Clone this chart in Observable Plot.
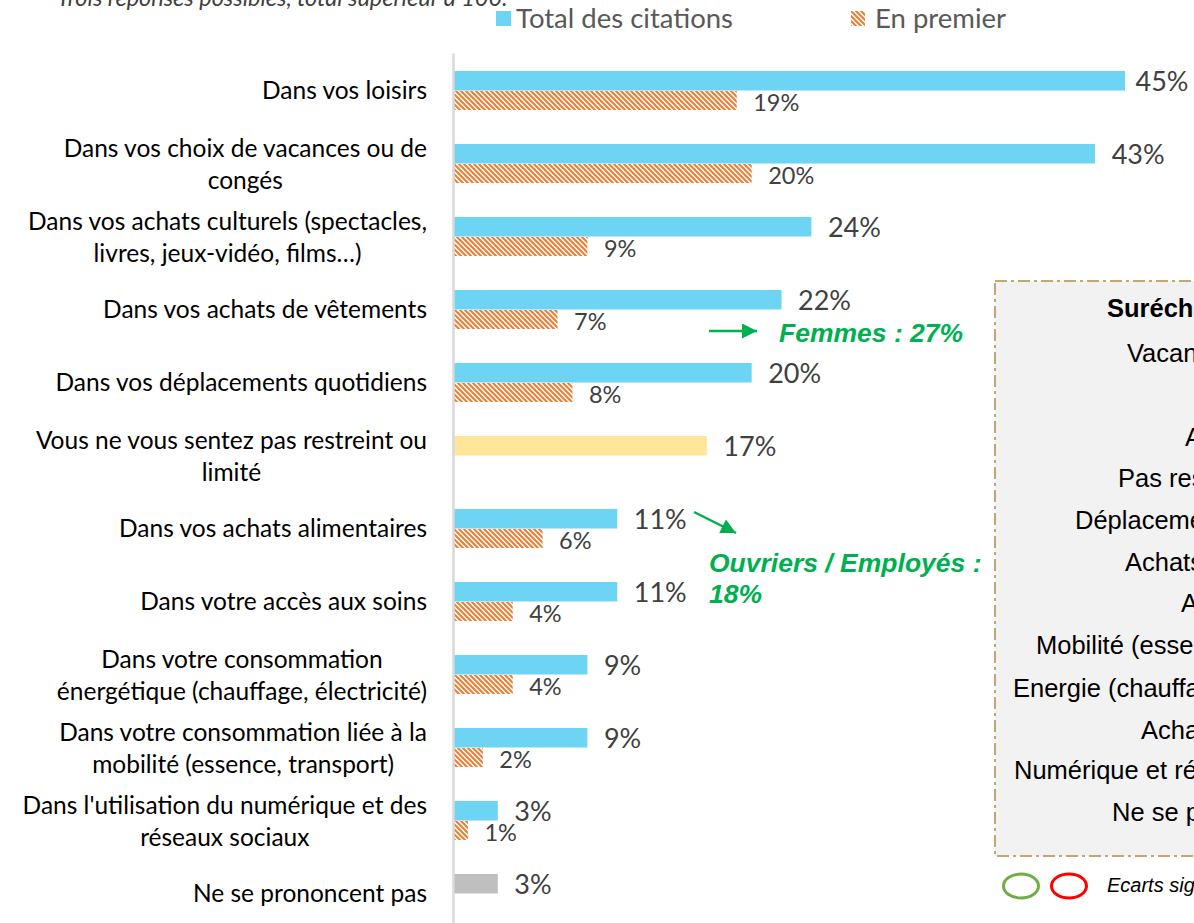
<!DOCTYPE html>
<html><head><meta charset="utf-8">
<script src="https://cdn.jsdelivr.net/npm/d3@7"></script>
<script src="https://cdn.jsdelivr.net/npm/@observablehq/plot@0.6"></script>
<style>
html,body{margin:0;padding:0;background:#fff;}
#wrap{position:relative;width:1194px;height:923px;overflow:hidden;font-family:Lato,sans-serif;}
#wrap > svg{position:absolute;left:0;top:0;}
.cat{position:absolute;right:767px;transform:translateY(-50%);text-align:center;white-space:pre;line-height:31.5px;font-size:24.5px;color:#000;font-family:Lato,sans-serif;}
</style></head>
<body><div id="wrap"></div>
<script>
const categories = [
  "Dans vos loisirs",
  "Dans vos choix de vacances ou de\ncongés",
  "Dans vos achats culturels (spectacles,\nlivres, jeux-vidéo, films…)",
  "Dans vos achats de vêtements",
  "Dans vos déplacements quotidiens",
  "Vous ne vous sentez pas restreint ou\nlimité",
  "Dans vos achats alimentaires",
  "Dans votre accès aux soins",
  "Dans votre consommation\nénergétique (chauffage, électricité)",
  "Dans votre consommation liée à la\nmobilité (essence, transport)",
  "Dans l'utilisation du numérique et des\nréseaux sociaux",
  "Ne se prononcent pas"
];
const totals   = [45, 43, 24, 22, 20, 17, 11, 11, 9, 9, 3, 3];
const premiers = [19, 20, 9, 7, 8, null, 6, 4, 4, 2, 1, null];
const seriesNames = ["Total des citations", "En premier"];
const subtitle = "Trois réponses possibles, total supérieur à 100.";
const boxTitle = "Suréchantillons";
const boxLines = ["Vacances", "Achats culturels", "Pas restreint", "Déplacements quotidiens",
  "Achats de vêtements", "Accès aux soins", "Mobilité (essence, transport)",
  "Energie (chauffage, électricité)", "Achats alimentaires", "Numérique et réseaux sociaux", "Ne se prononcent pas"];
const notes = ["Femmes : 27%", "Ouvriers / Employés :", "18%"];
const ecartsLabel = "Ecarts significatifs";

const rows = categories.map((c, i) => ({cat: c, total: totals[i], premier: premiers[i]}));
const premierRows = rows.filter(d => d.premier != null);
const maxTotal = d3.max(totals);
const fillFor = d => d.cat.startsWith("Vous ne") ? "#FFE699" : d.cat.startsWith("Ne se") ? "#BFBFBF" : "#6DD4F4";

const hatchDef = id => `<pattern id="${id}" patternUnits="userSpaceOnUse" width="5" height="5">
     <rect width="5" height="5" fill="#fff"/>
     <path d="M-1,-1 L6,6 M-1,4 L1,6 M4,-1 L6,1" stroke="#ED7D31" stroke-width="2"/>
   </pattern>`;

const wrap = document.getElementById("wrap");

// background box (behind the chart)
const back = d3.create("svg").attr("width", 1194).attr("height", 923);
back.append("rect").attr("x", 995).attr("y", 281).attr("width", 260).attr("height", 575)
  .attr("fill", "#F2F2F2").attr("stroke", "#C4A676").attr("stroke-width", 2)
  .attr("stroke-dasharray", "12 4 3 4");
wrap.appendChild(back.node());

const totalLabel = {x: "total", y: "cat", text: d => d.total + "%", dy: -9, textAnchor: "start", fontSize: 27, fill: "#404040"};
const chart = Plot.plot({
  width: 1194, height: 930,
  marginLeft: 453, marginRight: 69, marginTop: 53.5, marginBottom: 0,
  x: {domain: [0, 45], axis: null},
  y: {domain: categories, paddingInner: 0.4658, paddingOuter: 0.2329, axis: null},
  style: {background: "transparent", fontFamily: "Lato, sans-serif", overflow: "visible"},
  marks: [
    Plot.barX(rows, {x: "total", y: "cat", fill: fillFor, insetBottom: 19.5}),
    Plot.barX(premierRows, {x: "premier", y: "cat", fill: "url(#hatch)", insetTop: 20}),
    Plot.ruleX([0], {stroke: "#D9D9D9", strokeWidth: 2.5}),
    Plot.text(rows.filter(d => d.total < maxTotal), {...totalLabel, dx: 16}),
    Plot.text(rows.filter(d => d.total === maxTotal), {...totalLabel, dx: 10}),
    Plot.text(premierRows, {x: "premier", y: "cat", text: d => d.premier + "%", dx: 16, dy: 12, textAnchor: "start", fontSize: 23.5, fill: "#404040"})
  ]
});
d3.select(chart).insert("defs", ":first-child").html(hatchDef("hatch"));
wrap.appendChild(chart);

// category labels positioned with the plot's y scale
const ys = chart.scale("y");
const band = d3.scaleBand(ys.domain, ys.range).paddingInner(ys.paddingInner).paddingOuter(ys.paddingOuter).align(ys.align ?? 0.5);
categories.forEach(c => {
  const div = document.createElement("div");
  div.className = "cat";
  div.style.top = (band(c) + band.bandwidth() / 2) + "px";
  div.textContent = c;
  wrap.appendChild(div);
});

// overlay: subtitle, legend, annotations, box text
const ov = d3.create("svg").attr("width", 1194).attr("height", 923).style("pointer-events", "none");
const green = "#00B050";
ov.append("defs").html(hatchDef("hatch2") + `<marker id="arr" viewBox="0 0 10 10" refX="10" refY="5" markerWidth="6.5" markerHeight="6" markerUnits="strokeWidth" orient="auto"><path d="M0,0 L10,5 L0,10 z" fill="${green}"/></marker>`);

ov.append("text").attr("x", 57).attr("y", 6).text(subtitle)
  .attr("font-family", "Lato, sans-serif").attr("font-style", "italic").attr("font-size", 23.5).attr("fill", "#404040");

ov.append("rect").attr("x", 496).attr("y", 11).attr("width", 15).attr("height", 15).attr("fill", "#6DD4F4");
ov.append("text").attr("x", 516).attr("y", 28).text(seriesNames[0])
  .attr("font-family", "Lato, sans-serif").attr("font-size", 27.5).attr("fill", "#595959");
ov.append("rect").attr("x", 851).attr("y", 11).attr("width", 14).attr("height", 15).attr("fill", "url(#hatch2)");
ov.append("text").attr("x", 875).attr("y", 28).text(seriesNames[1])
  .attr("font-family", "Lato, sans-serif").attr("font-size", 27.5).attr("fill", "#595959");

ov.append("line").attr("x1", 709).attr("y1", 331).attr("x2", 757).attr("y2", 331).attr("stroke", green).attr("stroke-width", 2.5).attr("marker-end", "url(#arr)");
ov.append("line").attr("x1", 694).attr("y1", 512).attr("x2", 736).attr("y2", 533).attr("stroke", green).attr("stroke-width", 2.5).attr("marker-end", "url(#arr)");
const gfont = "'Liberation Sans', Arial, sans-serif";
const gtext = (x, y, t) => ov.append("text").attr("x", x).attr("y", y).text(t).attr("fill", green)
  .attr("font-family", gfont).attr("font-weight", "bold").attr("font-style", "italic").attr("font-size", 26.5);
gtext(779, 342, notes[0]);
gtext(709, 572, notes[1]);
gtext(709, 603, notes[2]);

// box text
const boxX = [1127, 1185, 1118, 1075, 1125, 1181, 1036, 1013, 1141, 1014, 1112];
const boxY = [362, 446, 487, 529, 571, 612, 654, 697, 739, 779, 821];
ov.append("text").attr("x", 1107).attr("y", 317).text(boxTitle).attr("font-family", gfont).attr("font-weight", "bold").attr("font-size", 25.5).attr("fill", "#000");
boxLines.forEach((t, i) => {
  ov.append("text").attr("x", boxX[i]).attr("y", boxY[i]).text(t).attr("font-family", gfont).attr("font-size", 25.5).attr("fill", "#000");
});
// bottom legend
ov.append("ellipse").attr("cx", 1021).attr("cy", 886).attr("rx", 17.5).attr("ry", 12).attr("fill", "none").attr("stroke", "#70AD47").attr("stroke-width", 3);
ov.append("ellipse").attr("cx", 1069).attr("cy", 886).attr("rx", 17.5).attr("ry", 12).attr("fill", "none").attr("stroke", "#FF0000").attr("stroke-width", 3);
ov.append("text").attr("x", 1107).attr("y", 892).text(ecartsLabel).attr("font-family", gfont).attr("font-style", "italic").attr("font-size", 20).attr("fill", "#000");
wrap.appendChild(ov.node());
</script>
</body></html>
